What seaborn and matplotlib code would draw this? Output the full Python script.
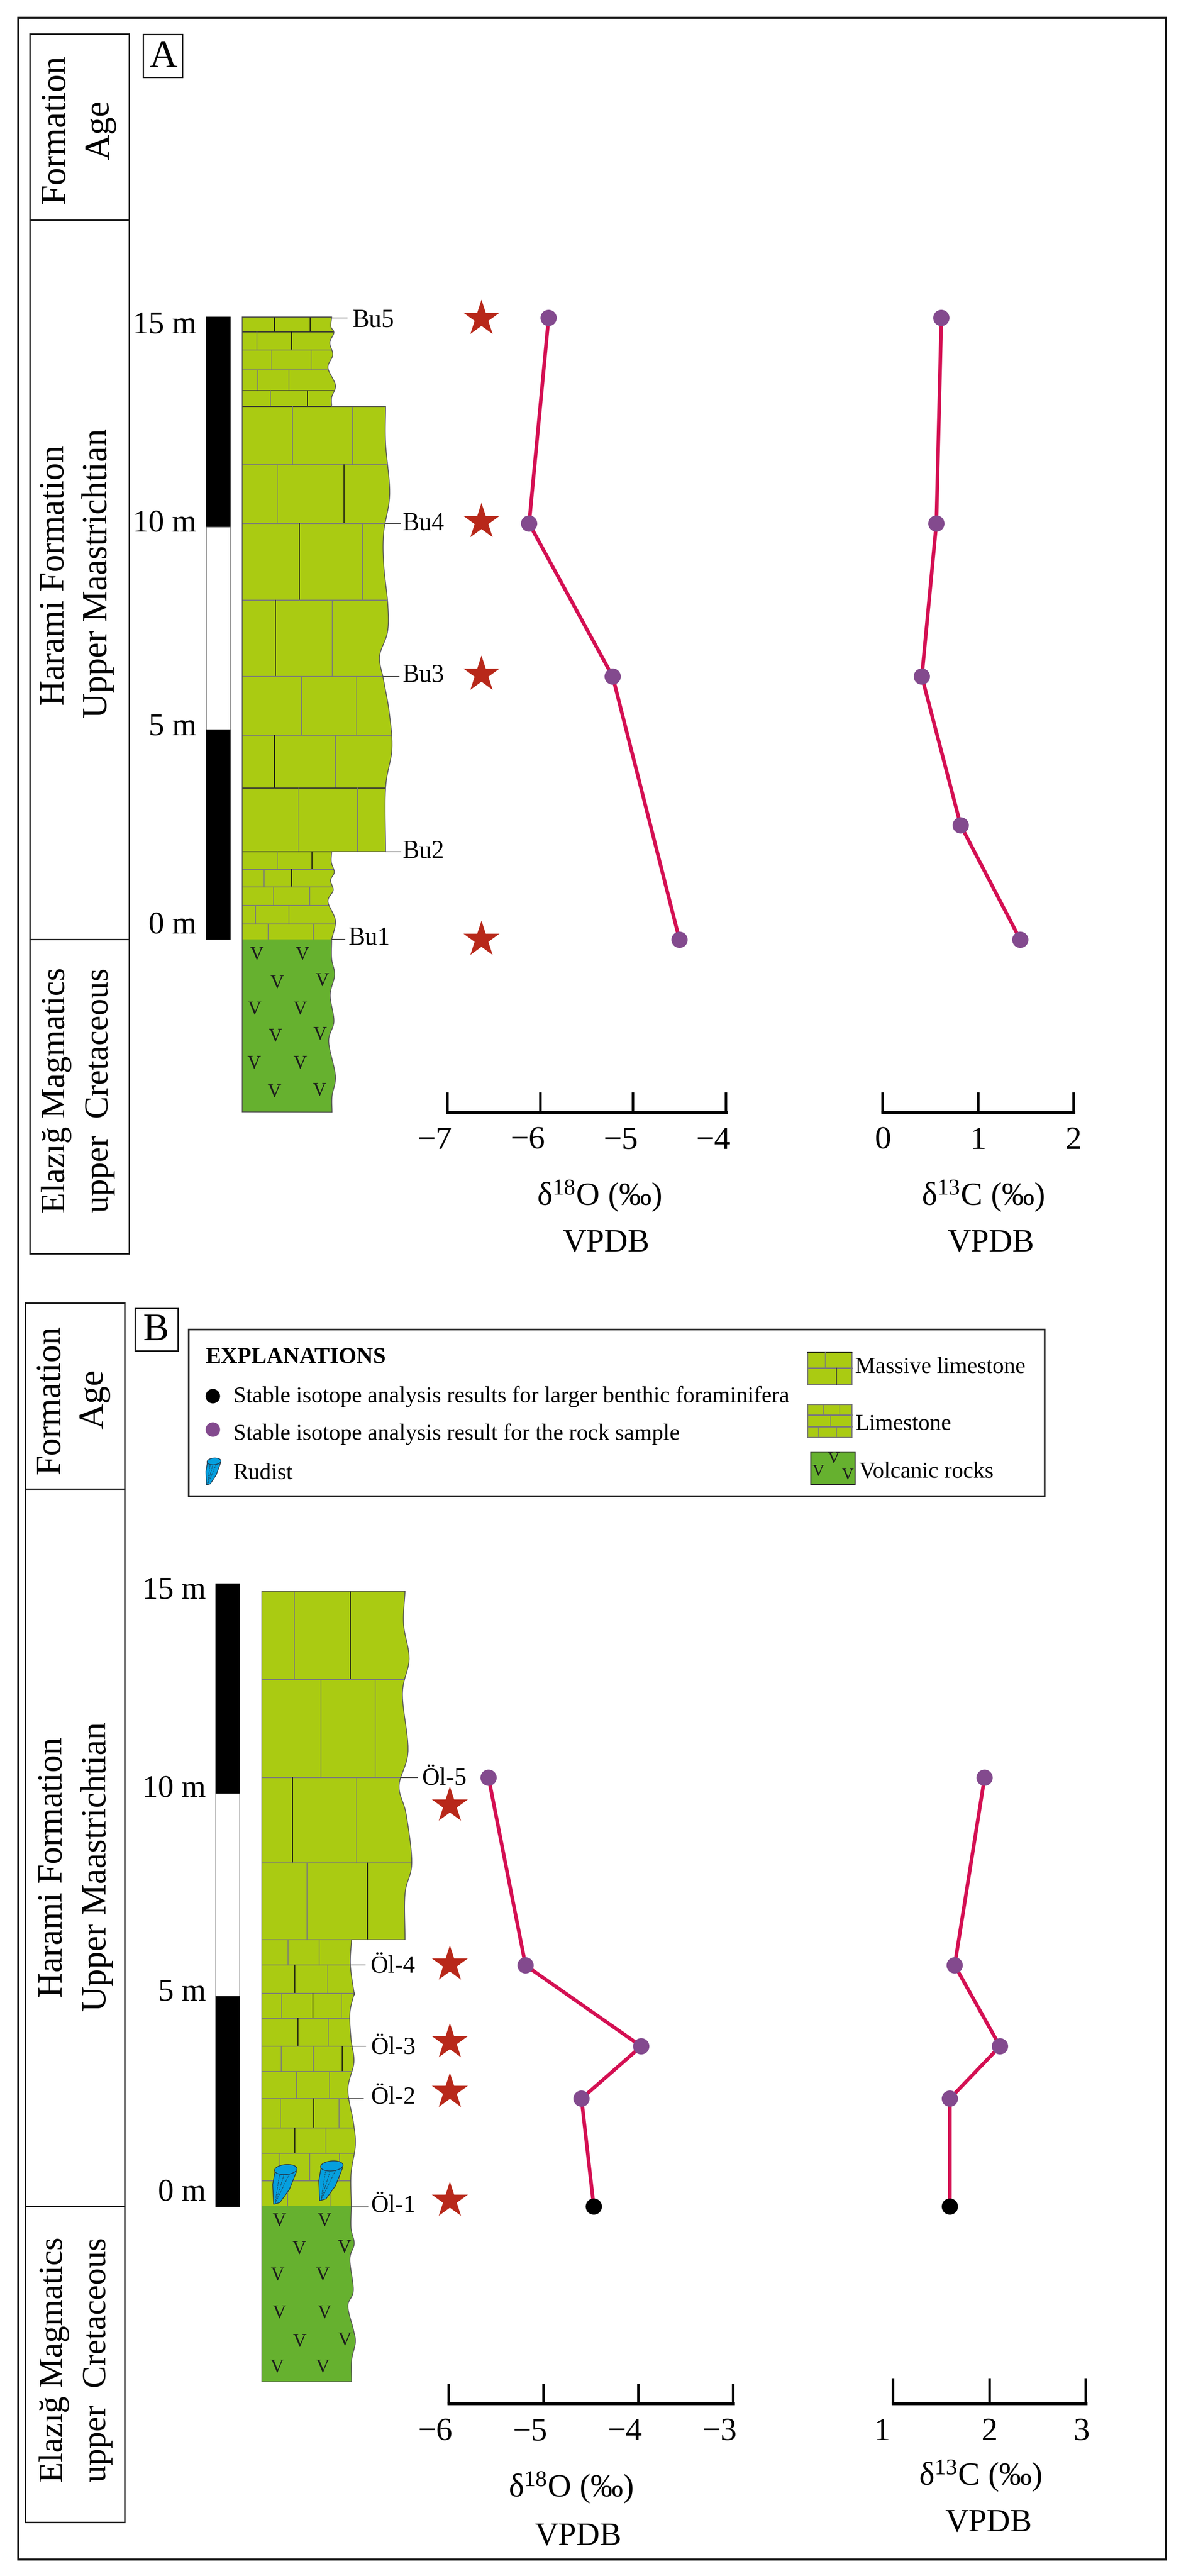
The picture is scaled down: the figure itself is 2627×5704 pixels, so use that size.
import numpy as np
import pandas as pd
import matplotlib
matplotlib.use("Agg")
import matplotlib.pyplot as plt
import seaborn as sns
from matplotlib.patches import Rectangle, Polygon, Ellipse
from matplotlib.transforms import ScaledTranslation

# ---------- data ----------
A_depth_o = [15.0, 10.04, 6.35, 0.0]
A_d18o = [-5.91, -6.12, -5.22, -4.50]
A_depth_c = [15.0, 10.04, 6.35, 2.76, 0.0]
A_d13c = [0.615, 0.563, 0.411, 0.818, 1.442]
A_star_depth = [14.99, 10.09, 6.41, 0.01]
A_star_x = [-6.635] * 4

B_depth = [10.33, 5.81, 3.86, 2.60, 0.0]
B_d18o = [-5.58, -5.19, -3.97, -4.60, -4.47]
B_d13c = [1.95, 1.64, 2.11, 1.59, 1.59]
B_kind = ["rock", "rock", "rock", "rock", "foram"]
B_star_depth = [9.67, 5.84, 3.97, 2.77, 0.15]
B_star_x = [-5.99] * 5

A_o_ticks = [-7, -6, -5, -4]
A_o_labels = ["−7", "−6", "−5", "−4"]
A_c_ticks = [0, 1, 2]
A_c_labels = ["0", "1", "2"]
B_o_ticks = [-6, -5, -4, -3]
B_o_labels = ["−6", "−5", "−4", "−3"]
B_c_ticks = [1, 2, 3]
B_c_labels = ["1", "2", "3"]

A_samples = ["Bu5", "Bu4", "Bu3", "Bu2", "Bu1"]
B_samples = ["Öl-5", "Öl-4", "Öl-3", "Öl-2", "Öl-1"]
scale_labels = ["15 m", "10 m", "5 m", "0 m"]
legend_left = ["Stable isotope analysis results for larger benthic foraminifera",
               "Stable isotope analysis result for the rock sample", "Rudist"]
legend_right = ["Massive limestone", "Limestone", "Volcanic rocks"]

# ---------- style and layout ----------
W, H = 2627, 5704
LIME, VOLC, RUD = "#AACB12", "#66B12F", "#069FDE"
LINE, PURPLE, STAR = "#D40F52", "#834A8E", "#B8281A"
GREY = "#7a7a7a"

sns.set_theme(style="white")
plt.rcParams["font.family"] = ["Liberation Serif", "DejaVu Serif"]
plt.rcParams["mathtext.fontset"] = "custom"
plt.rcParams["mathtext.rm"] = "Liberation Serif"
plt.rcParams["mathtext.default"] = "regular"

fig = plt.figure(figsize=(W / 100, H / 100), dpi=100, facecolor="white")
bg = fig.add_axes([0, 0, 1, 1])
bg.set_xlim(0, W)
bg.set_ylim(H, 0)
bg.axis("off")

pt = 0.72  # points per pixel


def box(x0, y0, x1, y1, lw=3.2, fc="none", ec="#1a1a1a", z=2):
    bg.add_patch(Rectangle((x0, y0), x1 - x0, y1 - y0, fc=fc, ec=ec, lw=lw * pt, zorder=z))


def rot(x, y, s, size):
    bg.text(x, y, s, rotation=90, ha="center", va="baseline", rotation_mode="anchor",
            fontsize=size, color="black", zorder=5)


def smooth(pts, n=10):
    p = np.array(pts, float)
    q = np.vstack([2 * p[0] - p[1], p, 2 * p[-1] - p[-2]])
    out = []
    for i in range(1, len(q) - 2):
        for t in np.linspace(0, 1, n, endpoint=False):
            a, b, c, d = q[i - 1], q[i], q[i + 1], q[i + 2]
            out.append(0.5 * (2 * b + (c - a) * t + (2 * a - 5 * b + 4 * c - d) * t ** 2
                              + (3 * b - a - 3 * c + d) * t ** 3))
    out.append(p[-1])
    return np.array(out)


def zc(pts, x0, y0, fx, fy):
    return [(x0 + a / fx, y0 + b / fy) for a, b in pts]


def column(left, edges, layers, bottom, lime_to, blacks, heavy=()):
    top = edges[0][0][1]
    outline = [(left, top)]
    for e in edges:
        outline.extend(map(tuple, smooth(e)))
    outline.append((left, bottom))
    clip = Polygon(outline, closed=True, fc="none", ec="none", transform=bg.transData)
    bg.add_patch(clip)
    r1 = Rectangle((left - 2, top - 2), 500, lime_to - top + 2, fc=LIME, ec="none", zorder=2)
    r2 = Rectangle((left - 2, lime_to), 500, bottom - lime_to + 2, fc=VOLC, ec="none", zorder=2)
    bg.add_patch(r1)
    bg.add_patch(r2)
    r1.set_clip_path(clip)
    r2.set_clip_path(clip)
    for y0, y1, xs in layers:
        c = "#333333" if y0 in heavy else GREY
        l, = bg.plot([left, left + 500], [y0, y0], color=c, lw=2.2 * pt, zorder=3)
        l.set_clip_path(clip)
        for x in xs:
            c = "#111111" if x in blacks else GREY
            l, = bg.plot([x, x], [y0, y1], color=c, lw=1.8 * pt, zorder=3)
            l.set_clip_path(clip)
    bg.add_patch(Polygon(outline, closed=True, fc="none", ec="#555555", lw=1.8 * pt, zorder=4))


def scale_bar(x0, x1, ys, right, baselines):
    for i, (a, b) in enumerate(zip(ys[:-1], ys[1:])):
        box(x0, a, x1, b, lw=1.5, fc="black" if i != 1 else "white", ec="black" if i != 1 else "#666666")
    for s, b in zip(scale_labels, baselines):
        bg.text(right, b, s, ha="right", va="baseline", fontsize=50, color="black", zorder=5)


def vees(points, size=30):
    for x, y in points:
        bg.text(x, y, "V", ha="center", va="center", fontsize=size, color="#1c1c1c", zorder=5)


def rudist(cx, cy, k=1.0, ky=1.0):
    cone = [(-24, 5), (-29, 33), (-27, 77), (-13, 73), (8, 44), (24, 4)]
    bg.add_patch(Polygon([(cx + a * k, cy + b * ky) for a, b in cone], closed=True,
                         fc=RUD, ec="#234", lw=1.5 * pt, zorder=6))
    tip = (cx - 24 * k, cy + 76 * ky)
    for a, b in [(-14, 12), (-4, 12), (8, 10)]:
        bg.plot([cx + a * k, tip[0]], [cy + b * ky, tip[1]], color="#234", lw=1 * pt, ls="--", zorder=7)
    bg.add_patch(Ellipse((cx, cy), 50 * k, 22 * ky, angle=-5, fc=RUD, ec="#234", lw=1.5 * pt, zorder=8))


def isotope_axes(x0, x1, y0, y1, xlim, ylim, xcol, xs, ys, ticks, labels, ticklen, offs,
                 xlabel, lab_x, lab_y, kinds=None, stars=None):
    ax = fig.add_axes([x0 / W, 1 - y1 / H, (x1 - x0) / W, (y1 - y0) / H], zorder=10)
    ax.patch.set_alpha(0)
    df = pd.DataFrame({xcol: xs, "depth": ys, "kind": kinds if kinds else ["rock"] * len(xs)})
    sns.lineplot(data=df, x=xcol, y="depth", sort=False, estimator=None, color=LINE,
                 linewidth=8 * pt, ax=ax, legend=False, zorder=3)
    sns.scatterplot(data=df, x=xcol, y="depth", hue="kind",
                    palette={"rock": PURPLE, "foram": "black"}, s=(36 * pt) ** 2,
                    linewidth=0, ax=ax, legend=False, zorder=4, clip_on=False)
    if stars:
        sns.scatterplot(x=stars[0], y=stars[1], marker="*", s=(84 * pt) ** 2, color=STAR,
                        linewidth=0, ax=ax, legend=False, zorder=4, clip_on=False)
    ax.set_xlim(*xlim)
    ax.set_ylim(*ylim)
    ax.set_ylabel("")
    ax.set_yticks([])
    ax.set_xticks(ticks)
    ax.set_xticklabels(labels, fontsize=52, color="black")
    ax.tick_params(axis="x", direction="in", length=ticklen * pt, width=5.5 * pt, color="black",
                   pad=31 * pt, bottom=True)
    for lab, d in zip(ax.get_xticklabels(), offs):
        lab.set_transform(lab.get_transform() + ScaledTranslation(d / 100, 0, fig.dpi_scale_trans))
    sns.despine(ax=ax, left=True)
    ax.spines["bottom"].set_linewidth(6.5 * pt)
    ax.spines["bottom"].set_color("black")
    ax.spines["bottom"].set_capstyle("projecting")
    ax.set_xlabel(xlabel, fontsize=52, color="black")
    ax.xaxis.set_label_coords((lab_x - x0) / (x1 - x0), 1 - (lab_y - y0) / (y1 - y0))
    ax.xaxis.label.set_verticalalignment("center")
    return ax


# ---------- outer frame ----------
box(40, 39, 2582, 5667, lw=4.5, ec="#111111", z=1)

# ---------- panel A ----------
box(66, 75, 286, 2776)
bg.plot([66, 286], [487, 487], color="#1a1a1a", lw=3 * pt, zorder=3)
bg.plot([66, 286], [2080, 2080], color="#1a1a1a", lw=3 * pt, zorder=3)
box(317, 76, 404, 171, lw=3)
bg.text(361, 147, "A", ha="center", va="baseline", fontsize=62, color="black", zorder=5)
rot(143, 286, "Formation", 57)
rot(240, 288, "Age", 57)
rot(141, 1274, "Harami Formation", 56)
rot(236, 1269, "Upper Maastrichtian", 56)
rot(143, 2414, "Elazığ Magmatics", 54)
rot(239, 2414, "upper  Cretaceous", 54)
scale_bar(457, 510, [702, 1167, 1616, 2080], 435, [737, 1177, 1628, 2068])

fx, fy = 1.206, 1.12
eA1 = zc([(886, 786), (884, 810), (892, 825), (881, 850), (889, 880), (876, 912), (896, 955), (886, 985), (886, 1008)], 0, 0, fx, fy)
eA2 = zc([(1030, 1008), (1030, 1100), (1041, 1225), (1025, 1320), (1025, 1400), (1036, 1500)], 0, 0, fx, fy) + \
      zc([(1035, 0), (1014, 60), (1025, 120), (1040, 200), (1047, 290), (1030, 386), (1030, 544)], 0, 1400, fx, fy)
eA3 = zc([(886, 544), (885, 570), (893, 595), (883, 615), (890, 640), (876, 668), (896, 715), (886, 762)], 0, 1400, fx, fy)
eA4 = zc([(886, 762), (886, 810), (894, 850), (882, 900), (892, 965), (878, 1015), (896, 1100), (887, 1150), (887, 1190)], 0, 1400, fx, fy)
layersA = [(702, 735, [608, 687]), (735, 775, [569, 646]), (775, 819, [602, 689]), (819, 865, [571, 640]),
           (865, 900, [599, 681]), (900, 1029, [648, 781]), (1029, 1159, [614, 762]), (1159, 1329, [663, 803]),
           (1329, 1498, [610, 736]), (1498, 1628, [668, 790]), (1628, 1745, [608, 743]), (1745, 1886, [662, 792]),
           (1886, 1925, [614, 691]), (1925, 1964, [585, 646]), (1964, 2005, [606, 686]), (2005, 2046, [566, 640]),
           (2046, 2080, [594, 694])]
column(536.5, [eA1, eA2, eA3, eA4], layersA, 2462, 2080, {608, 687, 646, 681, 762, 663, 610, 691},
       heavy={702, 735, 865, 900, 1745, 1886})
vA = zc([(686, 800), (807, 800), (740, 870), (860, 865), (680, 935), (802, 935), (735, 1003), (855, 998),
         (679, 1070), (801, 1070), (733, 1140), (853, 1137)], 0, 1400, fx, fy)
vees(vA)
for s, x, base, lead in zip(A_samples, [780, 891, 891, 891, 771], [723, 1174, 1509, 1900, 2092],
                            [(735, 769, 704), (854, 887, 1159), (849, 884, 1498), (854, 888, 1886), (735, 764, 2080)]):
    bg.text(x, base, s, ha="left", va="baseline", fontsize=40, color="black", zorder=5)
    bg.plot(lead[:2], [lead[2]] * 2, color="#444444", lw=2 * pt, zorder=4)

scA = 1377 / 15
ylimA = ((2081 - 2463) / scA, 15)
isotope_axes(991, 1608, 704, 2463, (-7, -4), ylimA, "d18O", A_d18o, A_depth_o, A_o_ticks, A_o_labels, 44,
             [-28, -28, -28, -28], "δ$^{18}$O (‰)", 1327, 2648, stars=(A_star_x, A_star_depth))
isotope_axes(1955, 2378, 704, 2463, (0, 2), ylimA, "d13C", A_d13c, A_depth_c, A_c_ticks, A_c_labels, 44,
             [0, 0, 0], "δ$^{13}$C (‰)", 2177, 2648)
bg.text(1342, 2753, "VPDB", ha="center", va="center", fontsize=52, color="black", zorder=5)
bg.text(2194, 2753, "VPDB", ha="center", va="center", fontsize=52, color="black", zorder=5)

# ---------- panel B ----------
box(56, 2885, 276, 5585)
bg.plot([56, 276], [3297, 3297], color="#1a1a1a", lw=3 * pt, zorder=3)
bg.plot([56, 276], [4885, 4885], color="#1a1a1a", lw=3 * pt, zorder=3)
box(299, 2897, 394, 2991, lw=3)
bg.text(345, 2968, "B", ha="center", va="baseline", fontsize=62, color="black", zorder=5)
rot(132, 3099, "Formation", 57)
rot(227, 3098, "Age", 57)
rot(137, 4135, "Harami Formation", 56)
rot(234, 4133, "Upper Maastrichtian", 56)
rot(138, 5225, "Elazığ Magmatics", 54)
rot(234, 5225, "upper  Cretaceous", 54)
scale_bar(478, 531, [3507, 3972, 4421, 4886], 456, [3540, 3979, 4430, 4873])

f5 = (1.206, 1.4255)
f4 = (1.568, 1.742)
eB1 = zc([(1082, 176), (1078, 280), (1093, 390), (1075, 500), (1090, 680), (1066, 790), (1085, 880), (1100, 1034),
          (1082, 1130), (1082, 1276)], 0, 3400, *f5)
eB2 = zc([(939, 1276), (936, 1356), (946, 1445)], 0, 3400, *f5) + \
      zc([(603, 25), (588, 100), (592, 200), (602, 290), (581, 395), (600, 520), (607, 610), (592, 720), (593, 845)], 400, 4400, *f4)
eB3 = zc([(593, 845), (592, 930), (603, 990), (588, 1050), (600, 1170), (581, 1230), (600, 1320), (607, 1370),
          (594, 1440), (594, 1522)], 400, 4400, *f4)
layersB = [(3523, 3719, [652, 776]), (3719, 3936, [711, 831]), (3936, 4125, [648, 790]), (4125, 4295, [680, 814]),
           (4295, 4351, [638, 707]), (4351, 4414, [653, 726]), (4414, 4469, [624, 693, 756]), (4469, 4531, [660, 727]),
           (4531, 4587, [623, 694, 758]), (4587, 4647, [657, 730]), (4647, 4712, [621, 695, 751]), (4712, 4768, [653, 722]),
           (4768, 4829, [620, 686, 752]), (4829, 4885, [637, 731])]
column(580, [eB1, eB2, eB3], layersB, 5274, 4885, {776, 648, 814, 693, 660, 758, 695, 653})
vB = zc([(342, 903), (500, 903), (412, 1010), (568, 1005), (336, 1112), (493, 1112), (342, 1258), (499, 1258),
         (413, 1368), (570, 1362), (335, 1467), (493, 1467)], 400, 4400, *f4)
vees(vB)
rudist(633, 4804)
rudist(735, 4796)
for s, x, base, lead in zip(B_samples, [935, 821, 822, 822, 822], [3951, 4367, 4548, 4658, 4898],
                            [(887, 925, 3936), (778, 809, 4351), (776, 810, 4531), (770, 805, 4647), (778, 815, 4885)]):
    bg.text(x, base, s, ha="left", va="baseline", fontsize=39, color="black", zorder=5)
    bg.plot(lead[:2], [lead[2]] * 2, color="#444444", lw=2 * pt, zorder=4)

scB = 1379 / 15
isotope_axes(994, 1624, 3507, 5322, (-6, -3), ((4886 - 5322) / scB, (4886 - 3507) / scB), "d18O", B_d18o, B_depth,
             B_o_ticks, B_o_labels, 44, [-30, -30, -30, -30], "δ$^{18}$O (‰)", 1264, 5508, kinds=B_kind,
             stars=(B_star_x, B_star_depth))
isotope_axes(1978, 2405, 3507, 5322, (1, 3), ((4886 - 5322) / scB, (4886 - 3507) / scB), "d13C", B_d13c, B_depth,
             B_c_ticks, B_c_labels, 56, [-24, 0, -10], "δ$^{13}$C (‰)", 2171, 5482, kinds=B_kind)
bg.text(1280, 5617, "VPDB", ha="center", va="center", fontsize=52, color="black", zorder=5)
bg.text(2189, 5587, "VPDB", ha="center", va="center", fontsize=52, color="black", zorder=5)

# ---------- legend ----------
box(418, 2944, 2314, 3313, lw=3.5, fc="white")
bg.text(455, 3017, "EXPLANATIONS", fontweight="bold", fontsize=36.5, va="baseline", color="black", zorder=5)
for s, b in zip(legend_left, [3105, 3188, 3275]):
    bg.text(517, b, s, fontsize=36.4, va="baseline", color="black", zorder=5)
bg.scatter([471], [3091], s=(32 * pt) ** 2, color="black", linewidth=0, zorder=5)
bg.scatter([471], [3165], s=(32 * pt) ** 2, color=PURPLE, linewidth=0, zorder=5)
rudist(474, 3236, k=0.62, ky=0.68)
for s, x, b in zip(legend_right, [1894, 1894, 1903], [3040, 3166, 3272]):
    bg.text(x, b, s, fontsize=36.4, va="baseline", color="black", zorder=5)
box(1789, 2994, 1887, 3066, lw=2.5, fc=LIME, ec=GREY, z=3)
bg.plot([1789, 1887], [2994, 2994], color="black", lw=2.5 * pt, zorder=4)
bg.plot([1789, 1887], [3029, 3029], color=GREY, lw=3 * pt, zorder=4)
bg.plot([1828, 1828], [2994, 3029], color=GREY, lw=1.5 * pt, zorder=4)
bg.plot([1853, 1853], [3029, 3066], color="#333333", lw=1.5 * pt, zorder=4)
box(1789, 3110, 1887, 3183, lw=2.5, fc=LIME, ec=GREY, z=3)
for y in [3133, 3159]:
    bg.plot([1789, 1887], [y, y], color=GREY, lw=3 * pt, zorder=4)
for x, a, b in [(1824, 3110, 3133), (1860, 3110, 3133), (1840, 3133, 3159), (1813, 3159, 3183), (1853, 3159, 3183)]:
    bg.plot([x, x], [a, b], color=GREY, lw=1.5 * pt, zorder=4)
box(1796, 3215, 1894, 3287, lw=2.5, fc=VOLC, ec="#222222", z=3)
vees([(1847, 3232), (1813, 3260), (1878, 3267)], size=26)

fig.savefig("out.png", dpi=100, facecolor="white")
